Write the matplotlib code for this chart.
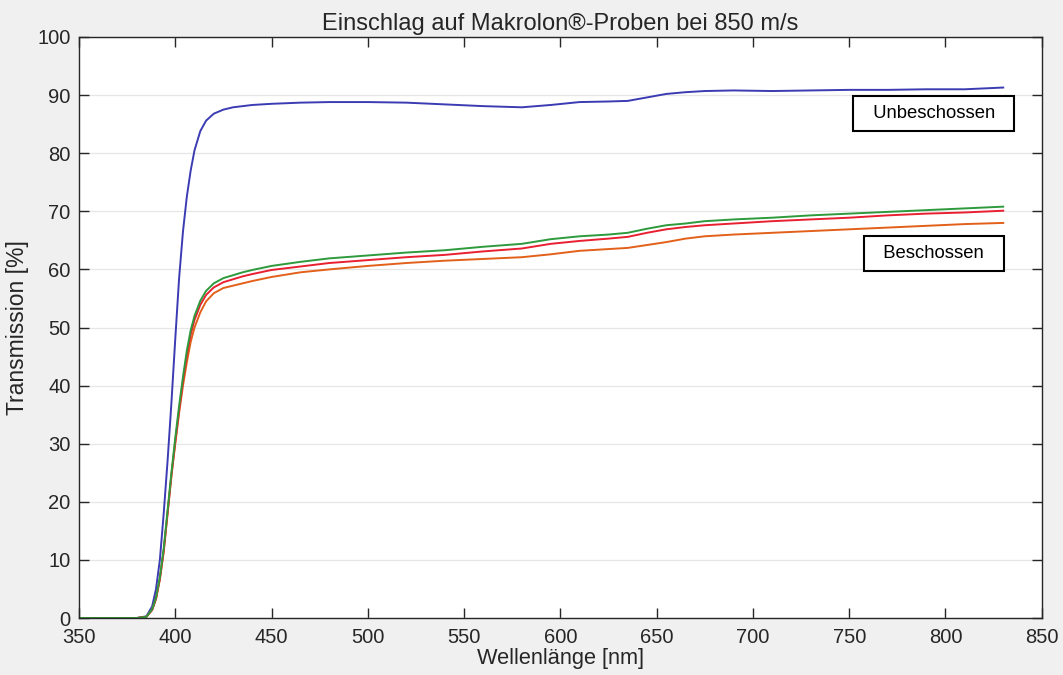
import matplotlib.pyplot as plt
import numpy as np

# Wavelength grid (nm) and transmission values (%)
wellenlaenge = [350, 380, 385, 388, 390, 392, 394, 396, 398, 400, 402, 404, 406, 408, 410,
                413, 416, 420, 425, 430, 435, 440, 450, 465, 480, 500, 520, 540, 560,
                580, 595, 610, 625, 635, 645, 655, 665, 675, 690, 710, 730, 750, 770, 790,
                810, 830]

unbeschossen = [0, 0, 0.3, 2, 5, 10, 18, 27, 37, 48, 58.5, 66.5, 72.5, 77, 80.5,
                83.8, 85.6, 86.8, 87.5, 87.9, 88.1, 88.3, 88.5, 88.7, 88.8, 88.8, 88.7, 88.4, 88.1,
                87.9, 88.3, 88.8, 88.9, 89.0, 89.6, 90.2, 90.5, 90.7, 90.8, 90.7, 90.8, 90.9, 90.9, 91.0,
                91.0, 91.3]

probe_gruen = [0, 0, 0.2, 1.5, 3.5, 7, 12, 18.5, 25, 31, 36.5, 41.5, 46, 49.5, 52.0,
               54.6, 56.3, 57.6, 58.5, 59.0, 59.5, 59.9, 60.6, 61.3, 61.9, 62.4, 62.9, 63.3, 63.9,
               64.4, 65.2, 65.7, 66.0, 66.3, 67.0, 67.6, 67.9, 68.3, 68.6, 68.9, 69.3, 69.6, 69.9, 70.2,
               70.5, 70.8]

probe_rot = [0, 0, 0.2, 1.4, 3.3, 6.7, 11.5, 18, 24.5, 30.3, 35.8, 40.8, 45.2, 48.8, 51.3,
             53.9, 55.6, 56.9, 57.8, 58.3, 58.8, 59.2, 59.9, 60.5, 61.1, 61.6, 62.1, 62.5, 63.1,
             63.6, 64.4, 64.9, 65.3, 65.6, 66.3, 66.9, 67.3, 67.6, 67.9, 68.3, 68.6, 68.9, 69.3, 69.6,
             69.8, 70.1]

probe_orange = [0, 0, 0.2, 1.4, 3.3, 6.7, 11.5, 18, 24.5, 30, 35.3, 40, 44, 47.5, 50.0,
                52.6, 54.5, 55.9, 56.8, 57.2, 57.6, 58.0, 58.7, 59.5, 60.0, 60.6, 61.1, 61.5, 61.8,
                62.1, 62.6, 63.2, 63.5, 63.7, 64.2, 64.7, 65.3, 65.7, 66.0, 66.3, 66.6, 66.9, 67.2, 67.5,
                67.8, 68.0]

plt.rcParams['font.family'] = ['Liberation Sans', 'DejaVu Sans']

fig = plt.figure(figsize=(10.63, 6.75), dpi=100, facecolor='#f0f0f0')
ax = fig.add_axes([0.0743, 0.0844, 0.9057, 0.8608])
ax.set_facecolor('white')

x = np.array(wellenlaenge)
ax.plot(x, unbeschossen, color='#3b3bb3', lw=1.4)
ax.plot(x, probe_orange, color='#e2601a', lw=1.4)
ax.plot(x, probe_rot, color='#e82030', lw=1.4)
ax.plot(x, probe_gruen, color='#2e9a3c', lw=1.4)

ax.set_xlim(350, 850)
ax.set_ylim(0, 100)
ax.set_xticks(np.arange(350, 851, 50))
ax.set_yticks(np.arange(0, 101, 10))
ax.grid(True, axis='y', color='#e6e6e6', lw=0.9)
ax.set_axisbelow(True)

ax.tick_params(direction='in', length=7, width=1, top=True, right=True,
               labelsize=14.5, colors='#262626')
ax.tick_params(axis='x', pad=7)
ax.tick_params(axis='y', pad=6)
for s in ax.spines.values():
    s.set_color('#262626')
    s.set_linewidth(1)

ax.set_title('Einschlag auf Makrolon®-Proben bei 850 m/s', fontsize=17, color='#262626', pad=5)
ax.set_xlabel('Wellenlänge [nm]', fontsize=15.7, color='#262626', labelpad=1)
ax.set_ylabel('Transmission [%]', fontsize=16.5, color='#262626', labelpad=6)

box = dict(boxstyle='square,pad=0.5', facecolor='white', edgecolor='black', lw=1.5)
ax.text(794, 86.8, '  Unbeschossen  ', ha='center', va='center', fontsize=13.3, bbox=box)
ax.text(794, 62.7, '  Beschossen  ', ha='center', va='center', fontsize=13.3, bbox=box)

fig.savefig('out.png', dpi=100, facecolor=fig.get_facecolor())
